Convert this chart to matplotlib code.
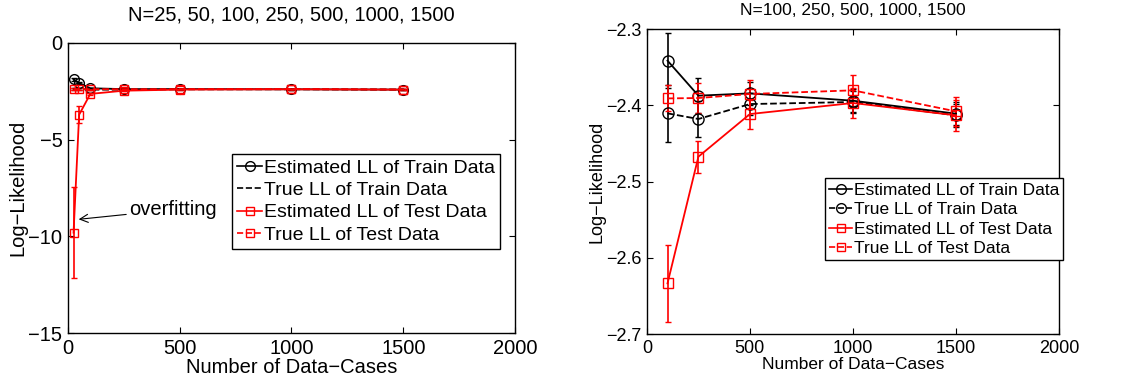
import numpy as np
import matplotlib.pyplot as plt
from matplotlib.lines import Line2D

plt.rcParams['font.family'] = ['Liberation Sans', 'DejaVu Sans']

# ── data ──
N_left = [25, 50, 100, 250, 500, 1000, 1500]
N_right = [100, 250, 500, 1000, 1500]

est_train = [-1.88, -2.07, -2.3415, -2.3874, -2.3844, -2.394, -2.411]
est_train_err = [0.08, 0.06, 0.036, 0.023, 0.015, 0.015, 0.015]
true_train = [-2.36, -2.38, -2.4106, -2.418, -2.3984, -2.3957, -2.4132]
true_train_err = [0.05, 0.04, 0.037, 0.024, 0.015, 0.015, 0.015]
est_test = [-9.81, -3.71, -2.6336, -2.4674, -2.4115, -2.397, -2.4132]
est_test_err = [2.37, 0.45, 0.051, 0.021, 0.019, 0.02, 0.02]
true_test = [-2.38, -2.39, -2.391, -2.3905, -2.3852, -2.3804, -2.408]
true_test_err = [0.05, 0.04, 0.017, 0.02, 0.018, 0.02, 0.019]

labels = ['Estimated LL of Train Data', 'True LL of Train Data',
          'Estimated LL of Test Data', 'True LL of Test Data']

fig = plt.figure(figsize=(11.27, 3.77), dpi=100)
axL = fig.add_axes([0.0603, 0.1167, 0.3967, 0.7693])
axR = fig.add_axes([0.574, 0.114, 0.3657, 0.809])


def style_axes(ax, fs):
    ax.tick_params(direction='in', top=True, right=True, length=4, labelsize=fs, pad=4)
    for s in ax.spines.values():
        s.set_linewidth(1.0)


def add_legend(ax, anchor, styles, fs):
    handles = [Line2D([], [], color=c, ls=ls, marker=m, ms=ms, mfc='none', mew=1.0, lw=1.2)
               for c, ls, m, ms in styles]
    leg = ax.legend(handles, labels, loc='upper left', bbox_to_anchor=anchor, fontsize=fs,
                    handlelength=1.3, handletextpad=0.1, borderpad=0.25, labelspacing=0.25,
                    fancybox=False, edgecolor='k', framealpha=1, borderaxespad=0)
    leg.get_frame().set_linewidth(1.0)


kw = dict(capsize=2.5, elinewidth=1.2, lw=1.3, mfc='none', mew=1.0)

# ── left panel (larger text, as in the reference) ──
fsL = 14.5
axL.errorbar(N_left, est_train, yerr=est_train_err, color='k', ls='-', marker='o', ms=7, **kw)
axL.errorbar(N_left, true_train, yerr=true_train_err, color='k', ls='--', marker='none', **kw)
axL.errorbar(N_left, est_test, yerr=est_test_err, color='r', ls='-', marker='s', ms=6, **kw)
axL.errorbar(N_left, true_test, yerr=true_test_err, color='r', ls='--', marker='s', ms=6, **kw)
axL.set_xlim(0, 2000)
axL.set_ylim(-15, 0)
axL.set_xticks([0, 500, 1000, 1500, 2000])
axL.set_yticks([0, -5, -10, -15])
axL.set_xlabel('Number of Data\u2212Cases', fontsize=fsL)
axL.xaxis.set_label_coords(0.5, -0.085)
axL.set_ylabel('Log\u2212Likelihood', fontsize=fsL)
axL.yaxis.set_label_coords(-0.09, 0.5)
axL.set_title('N=25, 50, 100, 250, 500, 1000, 1500', fontsize=fsL, pad=16)
axL.annotate('overfitting', xy=(48, -9.12), xytext=(273, -8.62),
             fontsize=fsL, va='center', ha='left',
             arrowprops=dict(arrowstyle='->', color='k', lw=0.8, shrinkA=0, shrinkB=0))
style_axes(axL, fsL)
add_legend(axL, (0.367, 0.617),
           [('k', '-', 'o', 7), ('k', '--', 'none', 0), ('r', '-', 's', 6), ('r', '--', 's', 6)], 14)

# ── right panel ──
fsR = 12.5
s = slice(2, None)
axR.errorbar(N_right, est_train[s], yerr=est_train_err[s], color='k', ls='-', marker='o', ms=8, **kw)
axR.errorbar(N_right, true_train[s], yerr=true_train_err[s], color='k', ls='--', marker='o', ms=8, **kw)
axR.errorbar(N_right, est_test[s], yerr=est_test_err[s], color='r', ls='-', marker='s', ms=7, **kw)
axR.errorbar(N_right, true_test[s], yerr=true_test_err[s], color='r', ls='--', marker='s', ms=7, **kw)
axR.set_xlim(0, 2000)
axR.set_ylim(-2.7, -2.3)
axR.set_xticks([0, 500, 1000, 1500, 2000])
axR.set_yticks([-2.3, -2.4, -2.5, -2.6, -2.7])
axR.set_xlabel('Number of Data\u2212Cases', fontsize=fsR)
axR.xaxis.set_label_coords(0.5, -0.075)
axR.set_ylabel('Log\u2212Likelihood', fontsize=13)
axR.yaxis.set_label_coords(-0.1, 0.5)
axR.set_title('N=100, 250, 500, 1000, 1500', fontsize=fsR, pad=10)
style_axes(axR, 13)
add_legend(axR, (0.432, 0.511),
           [('k', '-', 'o', 7), ('k', '--', 'o', 7), ('r', '-', 's', 6), ('r', '--', 's', 6)], fsR)

fig.savefig('out.png', dpi=100)
